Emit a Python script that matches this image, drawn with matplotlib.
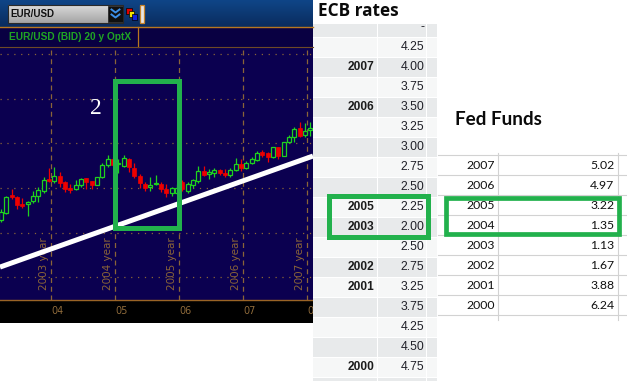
import matplotlib
matplotlib.use("Agg")
import matplotlib.pyplot as plt
import numpy as np
from matplotlib.patches import Rectangle
from matplotlib.transforms import blended_transform_factory

# monthly EUR/USD (BID) candles, Mar 2003 .. Jan 2008
opens = [1.056, 1.088, 1.168, 1.158, 1.128, 1.127, 1.141, 1.165, 1.188, 1.239,
         1.232, 1.253, 1.227, 1.198, 1.197, 1.212, 1.243, 1.230, 1.214, 1.248,
         1.303, 1.328, 1.306, 1.300, 1.328, 1.288, 1.253, 1.216, 1.203, 1.218,
         1.216, 1.195, 1.176, 1.176, 1.228, 1.188, 1.213, 1.232, 1.276, 1.262,
         1.268, 1.280, 1.266, 1.258, 1.280, 1.307, 1.289, 1.310, 1.325, 1.362,
         1.355, 1.337, 1.382, 1.343, 1.407, 1.430, 1.469, 1.436, 1.460]
highs = [1.105, 1.164, 1.194, 1.164, 1.155, 1.141, 1.188, 1.205, 1.249, 1.291,
         1.295, 1.271, 1.232, 1.218, 1.236, 1.244, 1.244, 1.231, 1.249, 1.310,
         1.348, 1.339, 1.328, 1.348, 1.334, 1.310, 1.262, 1.228, 1.248, 1.258,
         1.227, 1.218, 1.205, 1.218, 1.236, 1.228, 1.241, 1.298, 1.298, 1.286,
         1.289, 1.283, 1.284, 1.289, 1.333, 1.328, 1.322, 1.340, 1.367, 1.370,
         1.362, 1.384, 1.384, 1.408, 1.437, 1.472, 1.496, 1.490, 1.496]
lows = [1.047, 1.083, 1.150, 1.105, 1.110, 1.075, 1.132, 1.137, 1.177, 1.228,
        1.222, 1.205, 1.183, 1.176, 1.191, 1.205, 1.194, 1.197, 1.211, 1.243,
        1.295, 1.298, 1.268, 1.295, 1.273, 1.243, 1.198, 1.188, 1.188, 1.212,
        1.183, 1.161, 1.164, 1.173, 1.188, 1.179, 1.198, 1.223, 1.253, 1.241,
        1.250, 1.259, 1.248, 1.250, 1.277, 1.277, 1.284, 1.307, 1.322, 1.340,
        1.318, 1.336, 1.328, 1.342, 1.400, 1.407, 1.430, 1.430, 1.433]
closes = [1.093, 1.159, 1.159, 1.123, 1.120, 1.137, 1.164, 1.191, 1.236, 1.231,
          1.253, 1.223, 1.197, 1.192, 1.212, 1.241, 1.227, 1.214, 1.248, 1.303,
          1.328, 1.303, 1.310, 1.333, 1.292, 1.255, 1.223, 1.201, 1.212, 1.223,
          1.194, 1.176, 1.198, 1.201, 1.194, 1.218, 1.236, 1.276, 1.258, 1.273,
          1.280, 1.266, 1.257, 1.280, 1.307, 1.289, 1.313, 1.331, 1.358, 1.348,
          1.337, 1.382, 1.343, 1.407, 1.430, 1.464, 1.433, 1.457, 1.469]

# hand-drawn support line (price at the left and right edge of the chart)
trend_start, trend_end = 0.845, 1.343
price_grid = [0.8, 1.0, 1.2, 1.4, 1.6, 1.8]
year_labels = ["2003 year", "2004 year", "2005 year", "2006 year", "2007 year"]
tick_labels = ["04", "05", "06", "07", "08"]

ecb_years = ["", "", "2007", "", "2006", "", "", "", "", "2005", "2003", "",
             "2002", "2001", "", "", "", "2000"]
ecb_rates = ["-", "4.25", "4.00", "3.75", "3.50", "3.25", "3.00", "2.75", "2.50",
             "2.25", "2.00", "2.50", "2.75", "3.25", "3.75", "4.25", "4.50", "4.75"]

fed_years = ["2007", "2006", "2005", "2004", "2003", "2002", "2001", "2000"]
fed_rates = ["5.02", "4.97", "3.22", "1.35", "1.13", "1.67", "3.88", "6.24"]

# colours
NAVY = "#0B0050"
HEAD_DARK = "#090042"
BROWN = "#8A6438"
ORANGE = "#B8771F"
UP = "#1ED21E"
DOWN = "#EE0000"
MARK = "#22B14C"

W, H = 627, 381
CHART_R, CHART_T, CHART_B = 313, 47, 300

fig = plt.figure(figsize=(W / 100, H / 100), dpi=100)
fig.patch.set_facecolor("white")

# black band under the chart (drawn behind the chart axes so tick labels show)
fig.add_artist(Rectangle((0, (H - 322.7) / H), CHART_R / W, 22.7 / H,
                         transform=fig.transFigure, facecolor="#000000",
                         edgecolor="none", zorder=0.5))

# ---- candle chart -------------------------------------------------------
ax = fig.add_axes([0, (H - CHART_B) / H, CHART_R / W, (CHART_B - CHART_T) / H], zorder=1)
ax.set_facecolor(NAVY)
n = len(opens)
x = np.arange(n)
ax.set_xlim(-0.1875, 58.5)
ax.set_ylim(0.6974, 1.8319)

year_lines = [9.375 + 12 * j for j in range(len(tick_labels))]

for p in price_grid:
    ax.axhline(p, color=BROWN, lw=0.9, ls=(0, (1, 4.5)), zorder=1)
for xl in year_lines:
    ax.axvline(xl, color=BROWN, lw=0.9, ls=(0, (4, 3)), zorder=1)

trans = blended_transform_factory(ax.transData, ax.transAxes)
for xl, lab in zip(year_lines, year_labels):
    ax.text(xl - 1.3, 0.04, lab, transform=trans, rotation=90, ha="center",
            va="bottom", color=BROWN, fontsize=7.5, family="DejaVu Sans", zorder=2)

o = np.array(opens)
c = np.array(closes)
up = c >= o
colors = np.where(up, UP, DOWN)
ax.vlines(x, lows, highs, colors=colors, lw=0.9, zorder=3)
body_lo = np.minimum(o, c)
body_h = np.maximum(np.abs(c - o), 0.002)
ax.bar(x[up], body_h[up], bottom=body_lo[up], width=0.72, facecolor=NAVY,
       edgecolor=UP, lw=0.9, zorder=4)
ax.bar(x[~up], body_h[~up], bottom=body_lo[~up], width=0.72, facecolor=DOWN,
       edgecolor=DOWN, lw=0.5, zorder=4)

ax.plot([-0.1875, 58.5], [trend_start, trend_end], color="white", lw=3.6,
        solid_capstyle="butt", zorder=5)

for side in ["top", "left", "right"]:
    ax.spines[side].set_visible(False)
ax.spines["bottom"].set_color("#9A6426")
ax.spines["bottom"].set_linewidth(1.0)
ax.set_yticks([])
ax.set_xticks(year_lines, tick_labels, ha="left")
ax.tick_params(axis="x", length=0, pad=4.5, labelsize=7, labelcolor="#8E6A3A")

# ---- overlay in pixel coordinates ---------------------------------------
ov = fig.add_axes([0, 0, 1, 1], zorder=3)
ov.patch.set_visible(False)
ov.axis("off")


def box(x0, y0, x1, y1, **kw):
    ov.add_patch(Rectangle((x0, y0), x1 - x0, y1 - y0, **kw))


def gradient(x0, y0, x1, y1, top, bottom):
    t = np.linspace(0, 1, 32)[:, None, None]
    a = np.array(matplotlib.colors.to_rgb(top))
    b = np.array(matplotlib.colors.to_rgb(bottom))
    img = a * (1 - t) + b * t
    ov.imshow(img, extent=[x0, x1, y1, y0], aspect="auto", interpolation="bilinear")


# header row 1: toolbar
gradient(0, 0, CHART_R, 26.7, "#0F4587", "#0A2C5E")
gradient(8.3, 5, 123.3, 22.7, "#DADADA", "#A4A4A4")
box(8.3, 5, 123.3, 22.7, facecolor="none", edgecolor="#2A2A2A", lw=0.8)
ov.text(10.5, 14.2, "EUR/USD", fontsize=7, fontweight="bold", family="Liberation Sans",
        color="#111111", va="center", ha="left")
box(108.3, 5.5, 122.7, 22.2, facecolor="#101010", edgecolor="#2A2A2A", lw=0.6)
for cy in (9.5, 14.5):
    ov.plot([111.5, 115.5, 119.5], [cy, cy + 3, cy], color="#3C8FE8", lw=1.4)
box(125.7, 8.3, 131.7, 14.3, facecolor="#E00000", edgecolor="#000000", lw=0.5)
box(128.5, 11.0, 134.3, 16.7, facecolor="#F2E400", edgecolor="#000000", lw=0.5)
box(131.7, 14.3, 137.3, 20.0, facecolor="#1020E0", edgecolor="#000000", lw=0.5)
box(139.5, 5, 144, 22.7, facecolor="#E6E6E6", edgecolor="#C8842A", lw=0.9)
ov.plot([0, CHART_R], [26.7, 26.7], color=ORANGE, lw=1.0)

# header row 2: instrument caption
box(0, 27.2, CHART_R, 46.7, facecolor=HEAD_DARK, edgecolor="none", zorder=0)
ov.text(9.3, 37, "EUR/USD (BID) 20 y OptX", fontsize=7.3, fontweight="bold",
        family="Liberation Sans", color="#20A424", va="center", ha="left")
ov.plot([137.7, 137.7], [27, 46.7], color=ORANGE, lw=0.9)
ov.plot([0, CHART_R], [46.9, 46.9], color="#6E4A26", lw=0.8)

# annotation on the chart
ov.text(96, 108, "2", fontsize=17, family="Liberation Serif", color="white",
        ha="center", va="center")
box(114.8, 80.8, 179.2, 228.2, facecolor="none", edgecolor=MARK, lw=3.6)

# ---- ECB rates table ----------------------------------------------------
cols = [(313.0, 376.6), (377.6, 426.3), (427.3, 437.2)]
for i in range(len(ecb_rates) + 1):
    top = max(17.7 + 20 * i, 24.3)
    bot = 17.7 + 20 * (i + 1) - 1
    shade = "#E8EAEB" if i % 2 == 0 else "#F6F7F7"
    for cx0, cx1 in cols:
        box(cx0, top, cx1, bot, facecolor=shade, edgecolor="none", zorder=0)
for i, (yr, rate) in enumerate(zip(ecb_years, ecb_rates)):
    cy = 27.3 + 20 * i
    if yr:
        ov.text(374.5, cy, yr, fontsize=8.6, fontweight="bold", family="Liberation Sans",
                color="#1C1C1C", ha="right", va="center")
    ov.text(424.5, cy, rate, fontsize=8.8, family="Liberation Sans",
            color="#202028", ha="right", va="center")
ov.text(318, 11, "ECB rates", fontsize=12.4, fontweight="bold", family="Open Sans",
        color="#0A0A0A", ha="left", va="center")
box(328.5, 195.8, 428.2, 236.8, facecolor="none", edgecolor=MARK, lw=3.6, zorder=5)

# ---- Fed Funds table ----------------------------------------------------
for j in range(len(fed_years) + 1):
    gy = 155 + 20 * j
    ov.plot([437.5, W], [gy, gy], color="#D2D2D2", lw=0.8, zorder=1)
for gx in (497.5, 617.5):
    ov.plot([gx, gx], [153, 320], color="#D2D2D2", lw=0.8, zorder=1)
for j, (yr, rate) in enumerate(zip(fed_years, fed_rates)):
    cy = 165.5 + 20 * j
    ov.text(494.5, cy, yr, fontsize=8.8, family="Lato", color="#111111",
            ha="right", va="center")
    ov.text(614.5, cy, rate, fontsize=8.8, family="Lato", color="#111111",
            ha="right", va="center")
ov.text(455, 119.7, "Fed Funds", fontsize=13.6, fontweight="bold", family="Lato",
        color="#0A0A0A", ha="left", va="center")
box(445.7, 198.3, 619.3, 234.3, facecolor="none", edgecolor=MARK, lw=3.4, zorder=5)

ov.set_xlim(0, W)
ov.set_ylim(H, 0)

fig.savefig("out.png", dpi=100, facecolor=fig.get_facecolor())
